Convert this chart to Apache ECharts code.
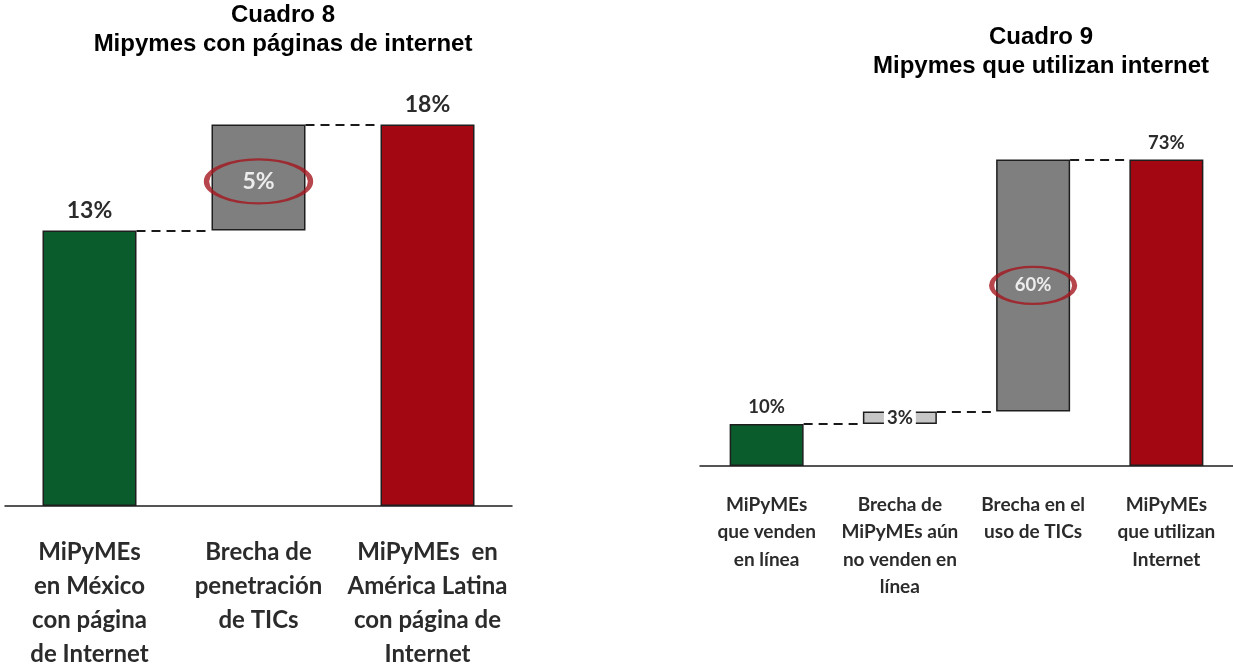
<!DOCTYPE html>
<html>
<head>
<meta charset="utf-8">
<script src="https://cdn.jsdelivr.net/npm/echarts@6/dist/echarts.min.js"></script>
<style>
  html, body { margin: 0; padding: 0; background: #fff; }
  #main { width: 1233px; height: 671px; }
</style>
</head>
<body>
<div id="main"></div>
<script>
// Cuadro 8
const cats8 = ['MiPyMEs\nen México\ncon página\nde Internet', 'Brecha de\npenetración\nde TICs', 'MiPyMEs  en\nAmérica Latina\ncon página de\nInternet'];
const vals8 = [13, 5, 18];
const kinds8 = ['total', 'delta', 'total'];

// Cuadro 9
const cats9 = ['MiPyMEs\nque venden\nen línea', 'Brecha de\nMiPyMEs aún\nno venden en\nlínea', 'Brecha en el\nuso de TICs', 'MiPyMEs\nque utilizan\nInternet'];
const vals9 = [10, 3, 60, 73];
const kinds9 = ['total', 'delta', 'delta', 'total'];

const GREEN = '#0b5c2d', RED = '#a30812', GRAY = '#7f7f7f', LIGHT = '#c6c6c6';
const TXT = '#2b2b2b';
const FONT = 'Lato, "Open Sans", sans-serif';

// bases for the waterfall (bar starts)
function calcBases(vals, kinds) {
    let running = 0;
    return vals.map((v, i) => {
        if (kinds[i] === 'total') { running = v; return 0; }
        const b = running;
        running += v;
        return b;
    });
}

function buildSeries(idx, vals, kinds, st) {
    const bases = calcBases(vals, kinds);
    const series = [];
    // half a bar, in category units, so the dashes run edge to edge
    const hb = st.barWidth / 2 / (st.gridWidth / vals.length);

    const links = [];
    for (let i = 0; i < vals.length - 1; i++) {
        const level = bases[i] + vals[i];
        links.push({ coords: [[i + hb, level], [i + 1 - hb, level]] });
    }
    // drawn on the hidden value x axis (index idx + 2) laid over the category one
    series.push({
        type: 'lines',
        coordinateSystem: 'cartesian2d',
        xAxisIndex: idx + 2, yAxisIndex: idx,
        z: 1,
        silent: true,
        lineStyle: { color: '#1a1a1a', width: 2, type: [9, 6], opacity: 1 },
        data: links
    });

    series.push({
        type: 'bar',
        stack: 'w' + idx,
        xAxisIndex: idx, yAxisIndex: idx,
        barWidth: st.barWidth,
        silent: true,
        z: 2,
        itemStyle: { color: 'rgba(0,0,0,0)' },
        data: bases
    });

    series.push({
        type: 'bar',
        stack: 'w' + idx,
        xAxisIndex: idx, yAxisIndex: idx,
        barWidth: st.barWidth,
        z: 3,
        data: vals.map((v, i) => {
            const isTotal = kinds[i] === 'total';
            const lab = isTotal
                ? { show: true, position: 'top', distance: st.topDist, color: TXT, fontSize: st.fontSize, fontWeight: 'bold', fontFamily: FONT }
                : Object.assign({ show: true, position: 'inside', color: '#ededed', fontSize: st.fontSize, fontWeight: 'bold', fontFamily: FONT }, st.deltaLabel[i] || {});
            return {
                value: v,
                itemStyle: { color: st.colors[i], borderColor: '#1e1e1e', borderWidth: 1.5 },
                label: Object.assign(lab, { formatter: (p) => p.value + '%' })
            };
        })
    });

    // red ellipse round the highlighted gap
    const e = st.ellipse.index;
    series.push({
        type: 'scatter',
        xAxisIndex: idx, yAxisIndex: idx,
        z: 5,
        silent: true,
        symbol: 'circle',
        symbolSize: st.ellipse.size,
        symbolOffset: st.ellipse.offset,
        itemStyle: { color: 'rgba(0,0,0,0)', borderColor: '#a4161f', borderWidth: 3.5 },
        data: [[e, bases[e] + vals[e] / 2]]
    });
    return series;
}

const chart = echarts.init(document.getElementById('main'));

const titleStyle = { fontFamily: '"Liberation Sans", Arial, sans-serif', fontWeight: 'bold', fontSize: 24, color: '#000', lineHeight: 29 };

const hiddenX = (grid, n) => ({ type: 'value', gridIndex: grid, min: -0.5, max: n - 0.5, show: false, splitLine: { show: false } });

const option = {
    animation: false,
    backgroundColor: '#fff',
    title: [
        { text: 'Cuadro 8\nMipymes con páginas de internet', left: 283, top: 1, textAlign: 'center', padding: 0, textStyle: titleStyle },
        { text: 'Cuadro 9\nMipymes que utilizan internet', left: 1041, top: 23, textAlign: 'center', padding: 0, textStyle: titleStyle }
    ],
    grid: [
        { left: 5, width: 507, top: 82, bottom: 162 },
        { left: 700, width: 533, top: 130, bottom: 205 }
    ],
    xAxis: [
        {
            type: 'category', gridIndex: 0, data: cats8,
            axisTick: { show: false },
            axisLine: { lineStyle: { color: '#1e1e1e', width: 1.5 } },
            axisLabel: { interval: 0, margin: 29, color: TXT, fontSize: 24, lineHeight: 34, fontWeight: 'bold', fontFamily: FONT }
        },
        {
            type: 'category', gridIndex: 1, data: cats9,
            axisTick: { show: false },
            axisLine: { lineStyle: { color: '#1e1e1e', width: 1.5 } },
            axisLabel: { interval: 0, margin: 25, color: TXT, fontSize: 19, lineHeight: 27.5, fontWeight: 'bold', fontFamily: FONT }
        },
        hiddenX(0, cats8.length),
        hiddenX(1, cats9.length)
    ],
    yAxis: [
        { type: 'value', gridIndex: 0, min: 0, max: 20, show: false, splitLine: { show: false } },
        { type: 'value', gridIndex: 1, min: 0, max: 80, show: false, splitLine: { show: false } }
    ],
    series: [
        ...buildSeries(0, vals8, kinds8, {
            barWidth: 94, gridWidth: 507, fontSize: 23, topDist: 8,
            colors: [GREEN, GRAY, RED],
            deltaLabel: { 1: { offset: [0, 4] } },
            ellipse: { index: 1, size: [104, 44], offset: [0, 4] }
        }),
        ...buildSeries(1, vals9, kinds9, {
            barWidth: 74, gridWidth: 533, fontSize: 18.5, topDist: 7,
            colors: [GREEN, LIGHT, GRAY, RED],
            deltaLabel: { 1: { color: TXT, backgroundColor: '#fff', padding: [0, 3] } },
            ellipse: { index: 2, size: [83, 37], offset: [0, 0] }
        })
    ]
};

chart.setOption(option);
</script>
</body>
</html>
